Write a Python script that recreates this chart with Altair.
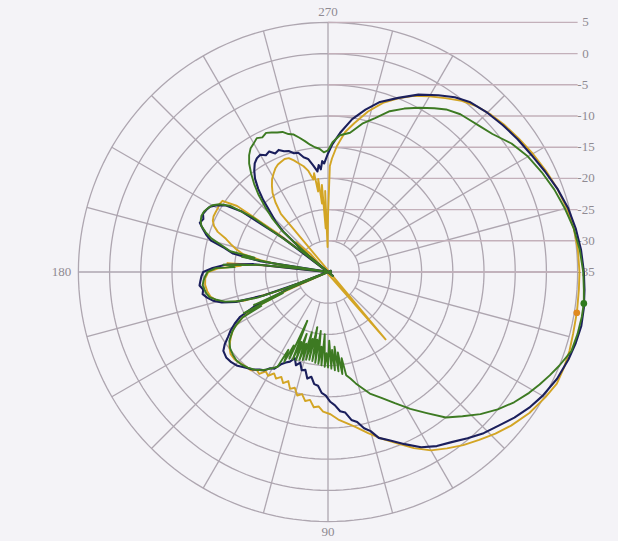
import altair as alt
import numpy as np
import pandas as pd

# ---- polar grid: radius in dB, -35 dB at the centre, +5 dB on the rim ----
DB_MIN = -35
RING_LEVELS = [-30, -25, -20, -15, -10, -5, 0, 5]
SCALE_LEVELS = [5, 0, -5, -10, -15, -20, -25, -30, -35]
SPOKE_ANGLES = list(range(0, 360, 15))
ANGLE_TEXT = ["270", "90", "180"]
ANGLE_AT = [270, 90, 180]

# ---- measured patterns (angle in degrees, clockwise from the right; level in dB) ----
blue_ang = [0, 4, 8, 12, 16, 20, 25, 30, 34, 38, 42, 46, 50, 54, 58, 62, 66, 70, 73, 75, 77, 79,
            81, 83, 85, 87, 89, 91, 93, 95, 97, 99, 101, 103, 105, 107, 109, 111, 113, 115, 117,
            119, 121, 123, 125, 128, 131, 134, 137, 140, 143, 145, 147, 149, 151, 153, 155, 157,
            158, 159, 160, 162, 164, 166, 168, 170, 172, 174, 176, 178, 180, 182, 184, 186, 187.5,
            189, 191, 193, 195, 197, 199, 201, 203, 205, 207, 209, 211, 213, 215, 217, 218.5, 220,
            222, 224, 226, 228, 230, 232, 234, 236, 238, 240, 242, 244, 246, 248, 250, 252, 254,
            256, 258, 260, 262, 264, 265, 266, 267, 268, 270, 272, 275, 279, 283, 287, 292, 297,
            302, 306, 310, 315, 320, 325, 330, 335, 340, 345, 350, 355, 360]
blue_db = [6.0, 6.2, 6.4, 6.5, 6.3, 6.0, 5.5, 4.7, 3.9, 2.9, 1.8, 0.9, -0.2, -1.3, -2.1, -3.2, -4.8,
           -6.3, -7.2, -8.6, -9.3, -10.5, -11.0, -12.3, -12.6, -13.6, -14.2, -15.2, -15.6, -16.7,
           -16.9, -18.0, -17.6, -18.9, -18.7, -19.8, -19.2, -20.2, -19.4, -19.0, -18.4, -17.3,
           -17.0, -16.2, -15.9, -15.2, -14.7, -14.1, -13.8, -13.7, -14.0, -14.8, -15.9, -16.8,
           -17.9, -19.2, -22.0, -28.0, -35.5, -30.0, -24.0, -19.5, -17.3, -16.0, -15.2, -14.6,
           -14.8, -14.3, -14.5, -14.7, -15.0, -16.5, -18.5, -23.0, -35.5, -24.0, -19.5, -18.0,
           -15.6, -14.6, -13.8, -13.0, -13.3, -12.9, -13.1, -13.4, -14.2, -15.4, -18.0, -26.0,
           -36.0, -30.0, -25.5, -23.3, -21.7, -19.5, -17.6, -16.0, -14.9, -14.0, -13.5, -13.3,
           -13.8, -13.5, -14.2, -13.9, -14.4, -14.6, -15.2, -15.3, -16.2, -16.6, -17.7, -18.8,
           -17.8, -18.5, -17.2, -17.6, -16.0, -14.5, -12.6, -10.2, -8.3, -6.5, -4.9, -3.1, -1.6,
           -0.4, 0.5, 1.1, 1.6, 2.1, 2.6, 3.3, 4.1, 4.8, 5.3, 5.7, 6.0]

green_ang = [0, 4, 7, 10, 14, 18, 22, 25, 28, 31, 35, 39, 43, 47, 51, 55, 59, 63, 67, 71, 74, 76,
             78, 80, 81, 82, 83, 84, 85, 86, 87, 88, 89, 90, 91, 92, 93, 94, 95, 96, 97, 98, 99,
             100, 101, 102, 103, 104, 105, 106, 107, 108, 109, 110, 111, 112, 113, 114, 115, 116,
             117, 118, 120, 122, 124, 127, 130, 133, 136, 139, 142, 145, 148, 150, 152, 153, 154,
             155, 156, 157, 158, 159, 160, 162, 164, 166, 168, 170, 172, 174, 176, 178, 180, 182,
             183, 184, 185, 186, 187, 188, 189, 190, 191, 192, 194, 196, 198, 200, 202, 204, 206,
             208, 210, 212, 214, 216, 218, 219, 220, 222, 224, 226, 228, 230, 232, 234, 236, 238,
             240, 242, 244, 246, 248, 250, 252, 254, 256, 258, 260, 262, 264, 266, 268, 270, 272,
             275, 279, 283, 287, 291, 295, 299, 303, 306, 310, 313, 316, 320, 325, 330, 335, 340,
             345, 350, 355, 360]
green_db = [5.9, 6.1, 6.3, 6.3, 6.2, 6.0, 5.0, 4.2, 3.4, 2.6, 1.4, 0.0, -1.6, -3.4, -5.0, -7.4,
            -9.4, -11.4, -13.1, -14.4, -15.8, -16.6, -17.5, -18.2, -21.0, -18.5, -22.0, -19.0,
            -23.0, -19.2, -22.5, -19.5, -24.0, -19.7, -22.0, -19.8, -25.0, -20.0, -23.0, -20.2,
            -25.5, -20.3, -24.0, -20.5, -26.0, -20.6, -24.0, -20.5, -25.0, -20.3, -23.0, -20.2,
            -24.5, -20.0, -23.0, -19.9, -26.5, -19.8, -22.0, -19.0, -21.0, -17.8, -17.2, -16.6,
            -16.0, -15.4, -15.0, -14.7, -14.6, -14.8, -15.1, -15.7, -16.9, -18.0, -19.5, -23.0,
            -20.0, -27.0, -22.0, -31.0, -35.5, -28.0, -23.0, -19.8, -17.8, -16.6, -15.6, -15.2,
            -15.0, -14.8, -15.0, -15.3, -15.7, -17.0, -20.0, -18.2, -22.0, -24.0, -30.0, -35.5,
            -26.0, -21.0, -23.0, -19.0, -17.5, -15.6, -14.4, -13.4, -13.0, -12.8, -12.9, -13.2,
            -13.6, -14.5, -16.0, -20.0, -30.0, -36.0, -31.0, -25.0, -22.5, -20.5, -18.4, -16.6,
            -15.0, -13.5, -12.4, -11.6, -11.2, -10.7, -11.0, -10.6, -10.9, -11.2, -11.4, -12.0,
            -12.3, -13.0, -13.7, -14.4, -14.9, -15.2, -15.8, -15.5, -14.2, -13.0, -12.4, -10.6,
            -9.2, -7.4, -6.1, -4.9, -3.7, -2.8, -2.0, -1.7, -1.3, -0.6, 0.9, 2.0, 2.8, 3.6, 4.3,
            5.0, 5.5, 5.9]

yellow_ang = [0, 4, 9, 14, 18, 22, 26, 30, 35, 40, 44, 48, 52, 56, 60, 64, 68, 72, 76, 80, 83,
              86, 89, 92, 94, 96, 98, 100, 102, 104, 106, 108, 110, 112, 114, 116, 118, 120, 122,
              124, 126, 128, 131, 134, 137, 140, 143, 146, 149, 152, 154, 156, 157.5, 159, 161,
              163, 165, 168, 171, 174, 177, 180, 182, 184, 185, 186, 187, 188, 190, 192, 194, 196,
              198, 200, 202, 204, 206, 208, 210, 212, 214, 216, 217.5, 219, 221, 223, 226, 229.5,
              231, 233, 235, 237, 239, 241, 243, 245, 247, 249, 251, 253, 255, 257, 259, 261, 262,
              263, 264, 265, 266, 267, 268, 269, 270, 271, 272, 274, 277, 280, 284, 288, 292, 296,
              300, 304, 308, 312, 316, 320, 325, 330, 335, 340, 345, 350, 355, 360]
yellow_db = [5.3, 5.3, 5.4, 5.5, 5.7, 5.8, 5.8, 5.2, 4.4, 3.3, 2.3, 1.2, 0.2, -0.9, -2.0, -3.6,
             -5.4, -6.9, -8.4, -9.8, -10.6, -11.3, -12.2, -12.6, -13.4, -13.2, -14.3, -14.0, -15.0,
             -14.6, -15.7, -15.3, -16.4, -15.8, -16.6, -16.0, -16.6, -15.8, -16.2, -15.3, -15.6,
             -15.0, -14.9, -14.7, -14.5, -14.6, -15.2, -16.2, -17.3, -19.5, -22.0, -28.0, -35.5,
             -27.0, -21.0, -18.5, -16.8, -15.8, -15.4, -15.2, -15.3, -15.8, -17.5, -21.0, -18.8,
             -25.0, -35.5, -28.0, -24.0, -21.0, -19.8, -18.8, -17.8, -16.2, -15.3, -14.8, -14.6,
             -14.6, -14.6, -14.5, -14.6, -17.0, -25.0, -35.5, -31.0, -28.0, -31.0, -49.2, -23.0,
             -21.0, -19.5, -18.5, -17.6, -17.0, -16.4, -16.0, -15.8, -15.6, -15.7, -16.3, -17.0,
             -17.6, -18.5, -20.0, -19.0, -22.0, -20.0, -24.0, -21.0, -28.0, -22.0, -31.0, -26.0,
             -18.0, -16.8, -14.8, -12.4, -10.8, -8.5, -6.5, -5.0, -3.6, -2.5, -1.4, -0.2, 0.7,
             1.3, 1.8, 2.3, 2.9, 3.5, 4.1, 4.6, 5.0, 5.2, 5.3]

# marker points on the green and gold traces
marker_series = ["green", "gold"]
marker_ang = [7.0, 9.3]
marker_db = [6.3, 5.4]

# ---- colours ----
GRID = "#aea6b0"
HLINE = "#c3b0ba"
TEXT = "#8f8a92"
BG = "#f4f3f7"
COLORS = {"blue": "#1b1f5c", "green": "#3d7a22", "gold": "#d3a524"}

# plot frame in dB-radius units (centre of the pattern at the origin)
X_DOM = [-52.56, 46.47]
Y_DOM = [-43.11, 43.59]
W, H = 618, 541

xs = alt.Scale(domain=X_DOM, nice=False, zero=False)
ys = alt.Scale(domain=Y_DOM, nice=False, zero=False)


def polar(chart, ang="ang", rad="rad", prefix=""):
    """Convert (angle, radius) to cartesian, clockwise from the right."""
    return chart.transform_calculate(
        **{prefix + "px": f"datum.{rad} * cos(datum.{ang} * PI / 180)",
           prefix + "py": f"-datum.{rad} * sin(datum.{ang} * PI / 180)"}
    )


# rings
ring_rows = [{"level": lv, "ang": a, "rad": lv - DB_MIN}
             for lv in RING_LEVELS for a in np.arange(0, 361, 2)]
rings = polar(alt.Chart(pd.DataFrame(ring_rows))).mark_line(
    color=GRID, strokeWidth=1.3
).encode(
    x=alt.X("px:Q", scale=xs, axis=None),
    y=alt.Y("py:Q", scale=ys, axis=None),
    detail="level:N",
    order="ang:Q",
)

# spokes: quarter lines cross the centre, the rest start at the first ring
spoke_df = pd.DataFrame({"ang": SPOKE_ANGLES})
spokes = alt.Chart(spoke_df).transform_calculate(
    r0="datum.ang % 90 == 0 ? 0 : 5",
    r1="40",
).transform_calculate(
    x0="datum.r0 * cos(datum.ang * PI / 180)",
    y0="-datum.r0 * sin(datum.ang * PI / 180)",
    x1="datum.r1 * cos(datum.ang * PI / 180)",
    y1="-datum.r1 * sin(datum.ang * PI / 180)",
).mark_rule(color=GRID, strokeWidth=1.3).encode(
    x=alt.X("x0:Q", scale=xs, axis=None),
    y=alt.Y("y0:Q", scale=ys, axis=None),
    x2="x1:Q",
    y2="y1:Q",
)

# dB scale lines running to the right-hand labels
scale_df = pd.DataFrame({"level": SCALE_LEVELS})
scale_lines = alt.Chart(scale_df).transform_calculate(
    yy=f"datum.level - ({DB_MIN})", xa="0", xb="40.0"
).mark_rule(color=HLINE, strokeWidth=1.4).encode(
    x=alt.X("xa:Q", scale=xs, axis=None),
    x2="xb:Q",
    y=alt.Y("yy:Q", scale=ys, axis=None),
)
scale_text = alt.Chart(scale_df).transform_calculate(
    yy=f"datum.level - ({DB_MIN})",
    xx="datum.level < 0 ? 39.95 : 40.75",
    lab="'' + datum.level",
).mark_text(
    align="left", baseline="middle", font="Liberation Serif", fontSize=13, color=TEXT
).encode(
    x=alt.X("xx:Q", scale=xs, axis=None),
    y=alt.Y("yy:Q", scale=ys, axis=None),
    text="lab:N",
)

# angle labels just outside the rim
ang_df = pd.DataFrame({"lab": ANGLE_TEXT, "ang": ANGLE_AT})
ang_text = alt.Chart(ang_df).transform_calculate(
    rad="datum.ang == 180 ? 42.7 : 41.7"
).transform_calculate(
    px="datum.rad * cos(datum.ang * PI / 180)",
    py="-datum.rad * sin(datum.ang * PI / 180)",
).mark_text(
    align="center", baseline="middle", font="Liberation Serif", fontSize=13, color=TEXT
).encode(
    x=alt.X("px:Q", scale=xs, axis=None),
    y=alt.Y("py:Q", scale=ys, axis=None),
    text="lab:N",
)


def trace(angles, levels, color, width):
    df = pd.DataFrame({"ang": angles, "db": levels, "i": range(len(angles))})
    ch = alt.Chart(df).transform_calculate(rad=f"datum.db - ({DB_MIN})")
    return polar(ch).mark_line(
        color=color, strokeWidth=width, strokeJoin="round"
    ).encode(
        x=alt.X("px:Q", scale=xs, axis=None),
        y=alt.Y("py:Q", scale=ys, axis=None),
        order="i:Q",
    )


gold_line = trace(yellow_ang, yellow_db, COLORS["gold"], 1.9)
blue_line = trace(blue_ang, blue_db, COLORS["blue"], 2.1)
green_line = trace(green_ang, green_db, COLORS["green"], 1.9)

mk_df = pd.DataFrame({"s": marker_series, "ang": marker_ang, "db": marker_db})
markers = polar(
    alt.Chart(mk_df).transform_calculate(rad=f"datum.db - ({DB_MIN})")
).mark_point(filled=True, opacity=1, size=45).encode(
    x=alt.X("px:Q", scale=xs, axis=None),
    y=alt.Y("py:Q", scale=ys, axis=None),
    color=alt.Color("s:N", scale=alt.Scale(domain=["green", "gold"],
                                           range=["#2f7a1e", "#e08a20"]), legend=None),
)

chart = alt.layer(
    rings, spokes, scale_lines, scale_text, ang_text,
    gold_line, blue_line, green_line, markers
).properties(
    width=W, height=H, padding=0, autosize=alt.AutoSizeParams(type="none"),
    background=BG,
).configure_view(stroke=None)

chart.save("out.html", embed_options={"renderer": "svg", "actions": False})
